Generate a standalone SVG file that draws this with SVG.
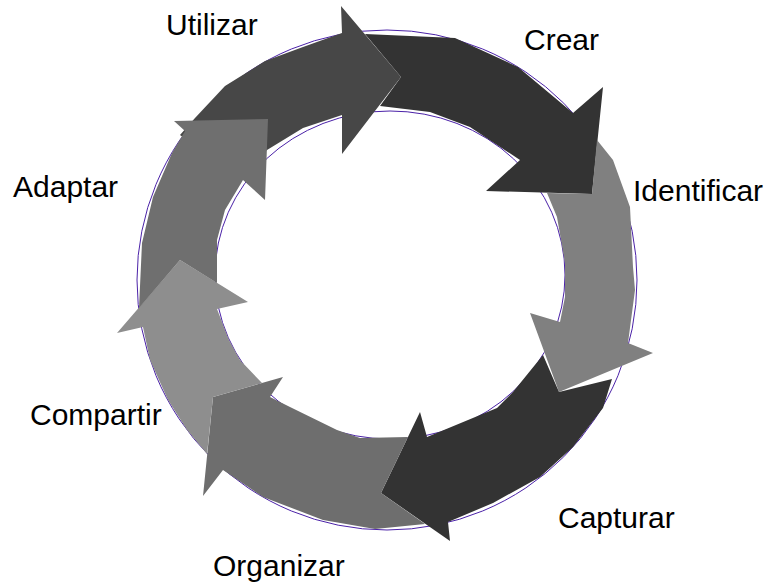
<svg xmlns="http://www.w3.org/2000/svg" width="764" height="584" viewBox="0 0 764 584">
<style>
.lbl{font-family:"Liberation Sans",Arial,sans-serif;font-size:30px;fill:#000}
.ring{fill:none;stroke:#4b22a8;stroke-width:1}
</style>
<rect width="764" height="584" fill="#fff"/>
<g id="ring">
<circle class="ring" cx="387" cy="280" r="250"/>
<ellipse class="ring" cx="390" cy="275" rx="175" ry="164"/>
</g>
<g id="connectors">
<g id="arrow-utilizar"><polygon fill="#474747" points="180,135 195,118 225,86 265,61 303,47 342,33 341,6 401,77 342,154 342,115 303,128 267,150 250,168 240,180"/></g>
<g id="arrow-crear"><polygon fill="#333333" points="365,34 455,38 518,67 573,113 603,87 592,194 486,191 520,160 470,127 430,112 380,106 401,77"/></g>
<g id="arrow-identificar"><polygon fill="#808080" points="597,140 613,160 630,207 633,267 635,290 628,343 653,353 559,392 530,313 560,322 565,297 565,263 557,217 547,193 592,194"/></g>
<g id="arrow-capturar"><polygon fill="#333333" points="559,392 612,379 603,408 573,447 540,477 493,503 448,522 450,541 381,493 420,412 427,437 497,408 513,392 543,355"/></g>
<g id="arrow-organizar"><polygon fill="#6e6e6e" points="425,524 381,493 408,437 360,438 337,430 290,407 270,397 283,377 213,397 203,496 223,470 263,497 323,520 375,529"/></g>
<g id="arrow-compartir"><polygon fill="#8e8e8e" points="207,454 213,397 262,383 240,360 229,340 217,309 248,302 180,260 117,333 143,327 150,360 168,400 187,430"/></g>
<g id="arrow-adaptar"><polygon fill="#6f6f6f" points="139,308 180,260 217,283 217,240 225,210 243,180 265,200 268,119 174,121 185,131 172,153 153,197 142,243"/></g>
</g>
<g id="node-utilizar"><text class="lbl" x="166" y="35">Utilizar</text></g>
<g id="node-crear"><text class="lbl" x="524" y="50">Crear</text></g>
<g id="node-identificar"><text class="lbl" x="633" y="201">Identificar</text></g>
<g id="node-capturar"><text class="lbl" x="558" y="528">Capturar</text></g>
<g id="node-organizar"><text class="lbl" x="213" y="576">Organizar</text></g>
<g id="node-compartir"><text class="lbl" x="30" y="425">Compartir</text></g>
<g id="node-adaptar"><text class="lbl" x="13" y="197">Adaptar</text></g>
</svg>
